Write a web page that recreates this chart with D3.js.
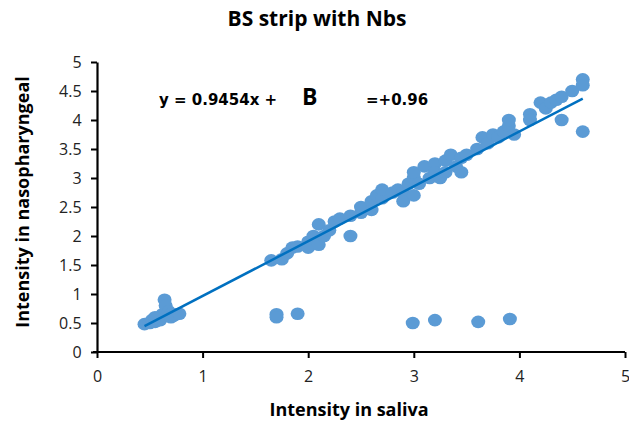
<!DOCTYPE html>
<html>
<head>
<meta charset="utf-8">
<script src="https://cdn.jsdelivr.net/npm/d3@7"></script>
<style>
  body { margin: 0; background: #fff; }
  text { font-family: "Open Sans", "DejaVu Sans", sans-serif; }
</style>
</head>
<body>
<svg id="plot"></svg>
<script>
// Data
const salivaMain = [0.45,0.5,0.52,0.55,0.58,0.6,0.62,0.64,0.65,0.68,0.7,0.72,0.75,0.6,0.55,0.7,0.78,
  1.65,1.75,1.8,1.85,1.9,2.0,2.0,2.05,2.1,2.1,2.15,2.2,2.25,2.3,2.4,2.5,2.5,2.6,2.6,2.65,2.7,2.7,2.8,2.85,2.9,2.9,2.95,
  3.0,3.0,3.0,3.05,3.1,3.15,3.2,3.2,3.25,3.3,3.3,3.35,3.4,3.45,3.45,3.5,3.6,3.65,3.7,3.75,3.8,3.85,3.9,3.9,3.95,
  4.1,4.1,4.2,4.25,4.3,4.35,4.4,4.5,4.6,4.6];
const nasoMain = [0.48,0.5,0.55,0.52,0.58,0.6,0.65,0.9,0.8,0.7,0.65,0.62,0.65,0.55,0.6,0.6,0.66,
  1.58,1.6,1.7,1.8,1.82,1.9,1.8,2.0,1.85,2.2,2.0,2.1,2.25,2.3,2.35,2.4,2.5,2.45,2.6,2.7,2.65,2.8,2.75,2.8,2.75,2.6,2.9,
  2.7,3.0,3.1,2.9,3.2,3.0,3.25,3.1,3.0,3.3,3.1,3.4,3.2,3.1,3.35,3.4,3.5,3.7,3.6,3.75,3.7,3.8,3.9,4.0,3.75,
  4.1,4.0,4.3,4.2,4.3,4.35,4.4,4.5,4.7,4.6];
const salivaOut = [1.7,1.7,1.9,2.99,3.2,3.61,3.91,2.4,4.4,4.6];
const nasoOut = [0.65,0.6,0.66,0.5,0.55,0.52,0.57,2.0,4.0,3.8];
const xTicks = [0,1,2,3,4,5];
const yTicks = [0,0.5,1,1.5,2,2.5,3,3.5,4,4.5,5];
const slope = 0.9454, intercept = 0.02, fitRange = [0.45, 4.6];

const W = 629, H = 426;
const x = d3.scaleLinear().domain([0, 5]).range([97, 625]);
const y = d3.scaleLinear().domain([0, 5]).range([352, 62]);

const svg = d3.select("#plot").attr("width", W).attr("height", H);

// title
svg.append("text")
    .attr("x", 317).attr("y", 26)
    .attr("text-anchor", "middle")
    .attr("font-size", 21).attr("font-weight", "bold")
    .text("BS strip with Nbs");

// points
const pts = salivaMain.map((d, i) => [d, nasoMain[i]])
  .concat(salivaOut.map((d, i) => [d, nasoOut[i]]));
svg.append("g").selectAll("ellipse")
    .data(pts)
  .enter().append("ellipse")
    .attr("cx", d => x(d[0]))
    .attr("cy", d => y(d[1]))
    .attr("rx", 7).attr("ry", 6.3)
    .attr("fill", "#5b9bd5");

// trend line
svg.append("line")
    .attr("x1", x(fitRange[0])).attr("y1", y(slope * fitRange[0] + intercept))
    .attr("x2", x(fitRange[1])).attr("y2", y(slope * fitRange[1] + intercept))
    .attr("stroke", "#0070c0").attr("stroke-width", 2.5);

// axes
const xAxis = svg.append("g")
    .attr("transform", "translate(0," + y(0) + ")")
    .call(d3.axisBottom(x).tickValues(xTicks).tickSize(6).tickSizeOuter(0).tickFormat(d3.format("")));
const yAxis = svg.append("g")
    .attr("transform", "translate(" + x(0) + ",0)")
    .call(d3.axisLeft(y).tickValues(yTicks).tickSize(6).tickSizeOuter(0).tickFormat(d3.format("")));
[xAxis, yAxis].forEach(g => {
  g.select(".domain").attr("stroke", "#000").attr("stroke-width", 2.2);
  g.selectAll(".tick line").attr("stroke", "#000").attr("stroke-width", 2);
  g.selectAll(".tick text").attr("font-size", 16).attr("fill", "#222")
    .style("font-family", "'Open Sans', sans-serif");
});
xAxis.selectAll(".tick text").attr("dy", "1.3em");
yAxis.selectAll(".tick text").attr("dx", "-0.4em");
// extend x axis a bit left of the y axis
xAxis.select(".domain").attr("d", "M" + (x(0) - 4) + ",0H" + x(5));

// axis titles
svg.append("text")
    .attr("x", 349).attr("y", 416)
    .attr("text-anchor", "middle")
    .attr("font-size", 18).attr("font-weight", "bold")
    .text("Intensity in saliva");
svg.append("text")
    .attr("transform", "translate(29,202) rotate(-90)")
    .attr("text-anchor", "middle")
    .attr("font-size", 18).attr("font-weight", "bold")
    .text("Intensity in nasopharyngeal");

// equation label, partly covered by the panel letter
svg.append("text")
    .attr("x", 159).attr("y", 105)
    .attr("font-size", 15).attr("font-weight", 600)
    .style("font-family", "'DejaVu Sans', sans-serif")
    .text("y = 0.9454x +");
svg.append("rect")
    .attr("x", 286).attr("y", 80).attr("width", 78).attr("height", 32)
    .attr("fill", "#fff");
svg.append("text")
    .attr("x", 302).attr("y", 105)
    .attr("font-size", 23).attr("font-weight", "bold")
    .text("B");
svg.append("text")
    .attr("x", 366).attr("y", 105)
    .attr("font-size", 15).attr("font-weight", 600)
    .style("font-family", "'DejaVu Sans', sans-serif")
    .text("=+0.96");
</script>
</body>
</html>
